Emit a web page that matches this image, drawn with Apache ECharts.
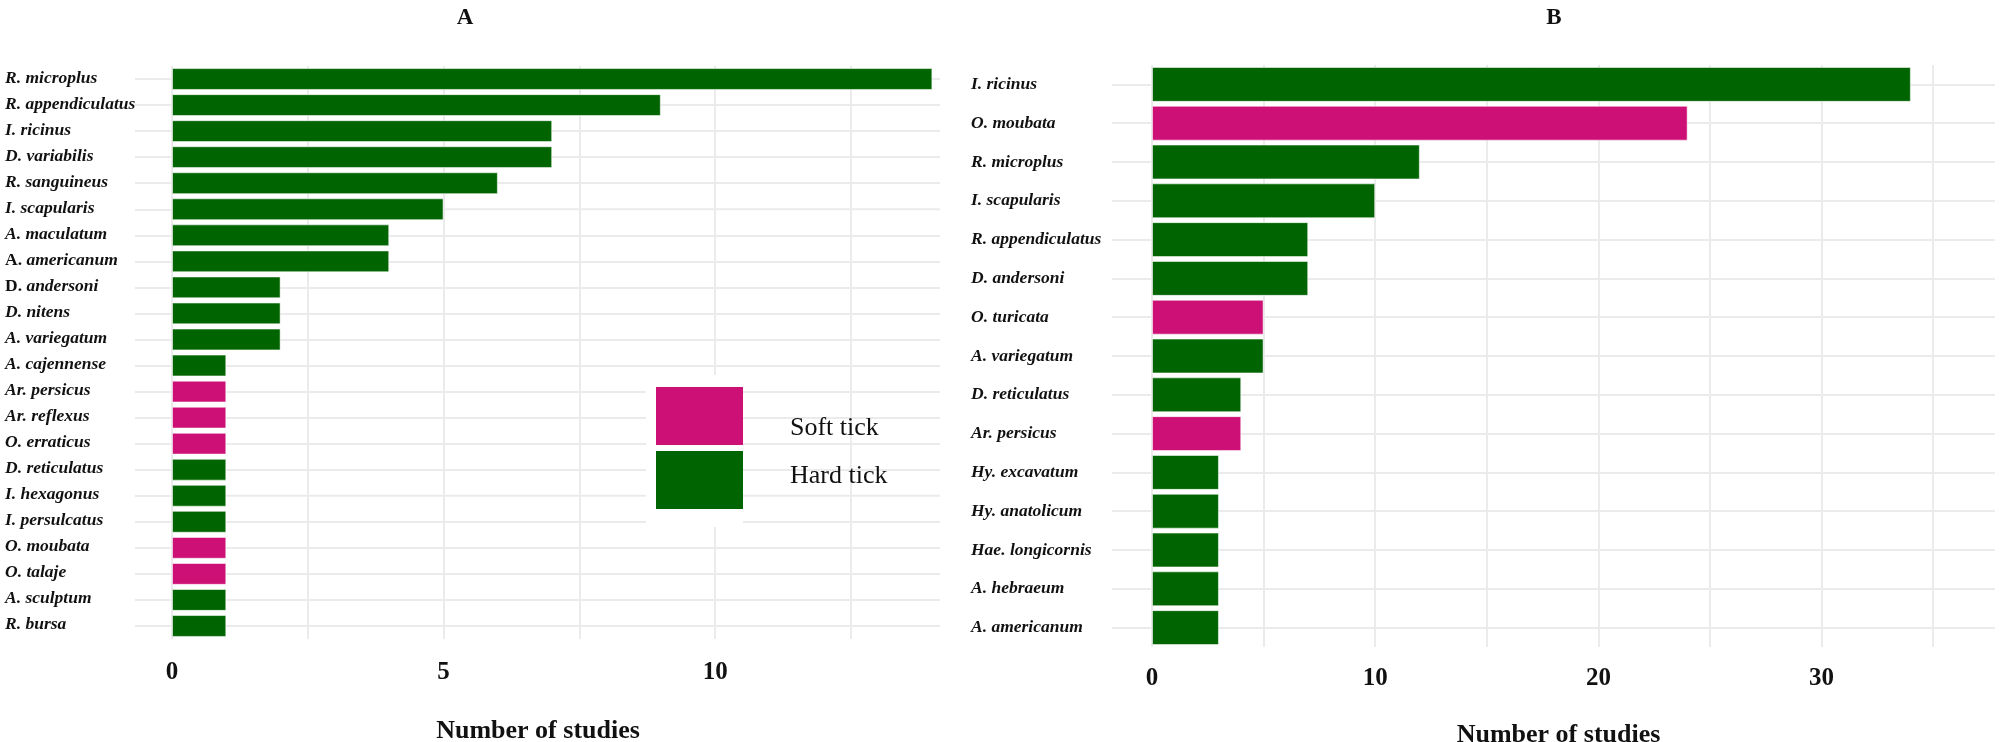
<!DOCTYPE html>
<html>
<head>
<meta charset="utf-8">
<script src="https://cdn.jsdelivr.net/npm/echarts@6/dist/echarts.min.js"></script>
<style>
  html, body { margin: 0; padding: 0; background: #ffffff; }
  #chart { width: 2000px; height: 742px; }
</style>
</head>
<body>
<div id="chart"></div>
<script>
// ---- Panel A data ----
const catsA = ['R. microplus', 'R. appendiculatus', 'I. ricinus', 'D. variabilis', 'R. sanguineus',
  'I. scapularis', 'A. maculatum', 'A. americanum', 'D. andersoni', 'D. nitens', 'A. variegatum',
  'A. cajennense', 'Ar. persicus', 'Ar. reflexus', 'O. erraticus', 'D. reticulatus', 'I. hexagonus',
  'I. persulcatus', 'O. moubata', 'O. talaje', 'A. sculptum', 'R. bursa'];
const valsA = [14, 9, 7, 7, 6, 5, 4, 4, 2, 2, 2, 1, 1, 1, 1, 1, 1, 1, 1, 1, 1, 1];
const typeA = ['H', 'H', 'H', 'H', 'H', 'H', 'H', 'H', 'H', 'H', 'H', 'H', 'S', 'S', 'S', 'H', 'H', 'H', 'S', 'S', 'H', 'H'];
const uprightGenusA = ['A. americanum', 'D. andersoni'];

// ---- Panel B data ----
const catsB = ['I. ricinus', 'O. moubata', 'R. microplus', 'I. scapularis', 'R. appendiculatus',
  'D. andersoni', 'O. turicata', 'A. variegatum', 'D. reticulatus', 'Ar. persicus', 'Hy. excavatum',
  'Hy. anatolicum', 'Hae. longicornis', 'A. hebraeum', 'A. americanum'];
const valsB = [34, 24, 12, 10, 7, 7, 5, 5, 4, 4, 3, 3, 3, 3, 3];
const typeB = ['H', 'S', 'H', 'H', 'H', 'H', 'S', 'H', 'H', 'S', 'H', 'H', 'H', 'H', 'H'];

const legendNames = ['Soft tick', 'Hard tick'];
const titleA = 'A', titleB = 'B';
const axisTitle = 'Number of studies';

const HARD = '#006400', SOFT = '#CD1076', GRIDC = '#ebebeb';
const SERIF = 'Liberation Serif';

const pick = (vals, types, t) => vals.map((v, i) => types[i] === t ? v : '-');

// Geometry (pixels)
const A = { left: 172, right: 940, top: 66, bottom: 639, lineStart: 135, labelX: 5, max: 14.14 };
const B = { left: 1152, right: 1995, top: 65, bottom: 647, lineStart: 1112, labelX: 971, max: 37.77 };

const chart = echarts.init(document.getElementById('chart'), null, { renderer: 'canvas' });

// left axis: labels + short outside ticks (horizontal grid lines left of zero)
function catAxis(idx, P, cats, rich, fmt, padBottom) {
  return {
    type: 'category', gridIndex: idx, data: cats, inverse: true, position: 'left',
    axisLine: { show: false },
    axisTick: { show: true, inside: false, alignWithLabel: true, interval: 0,
      length: P.left - P.lineStart, lineStyle: { color: GRIDC, width: 2 } },
    splitLine: { show: false },
    axisLabel: { interval: 0, align: 'left', margin: P.left - P.labelX,
      fontFamily: SERIF, fontWeight: 'bold', fontStyle: 'italic', fontSize: 17.5, color: '#111',
      padding: [0, 0, padBottom, 0], formatter: fmt, rich: rich }
  };
}
// right axis: inside ticks spanning the plot = horizontal grid lines at category centres
function catGridAxis(idx, P, cats) {
  return {
    type: 'category', gridIndex: idx, data: cats, inverse: true, position: 'right',
    axisLine: { show: false }, axisLabel: { show: false }, splitLine: { show: false },
    axisTick: { show: true, inside: true, alignWithLabel: true, interval: 0,
      length: P.right - P.left, lineStyle: { color: GRIDC, width: 2 } }
  };
}

function valAxis(idx, P, interval, labelEvery, margin, nameGap, namePadRight) {
  return {
    type: 'value', gridIndex: idx, min: 0, max: P.max, interval: interval,
    axisLine: { show: false }, axisTick: { show: false },
    splitLine: { show: true, showMaxLine: false, lineStyle: { color: GRIDC, width: 2 } },
    axisLabel: { margin: margin, fontFamily: SERIF, fontWeight: 'bold', fontSize: 25, color: '#111',
      showMaxLabel: false,
      formatter: v => (Math.abs(v % labelEvery) < 1e-9 ? String(v) : '') },
    name: axisTitle, nameLocation: 'middle', nameGap: nameGap,
    nameTextStyle: { fontFamily: SERIF, fontWeight: 'bold', fontSize: 26, color: '#111',
      padding: [0, namePadRight, 0, 0] }
  };
}

const richA = {
  u: { fontFamily: SERIF, fontWeight: 'bold', fontStyle: 'normal', fontSize: 17.5, color: '#111' },
  i: { fontFamily: SERIF, fontWeight: 'bold', fontStyle: 'italic', fontSize: 17.5, color: '#111' }
};
const fmtA = (name) => {
  if (uprightGenusA.indexOf(name) >= 0) {
    const k = name.indexOf(' ');
    return '{u|' + name.slice(0, k) + '}{i|' + name.slice(k) + '}';
  }
  return name;
};

const option = {
  animation: false,
  backgroundColor: '#ffffff',
  title: [
    { text: titleA, left: 460, top: 2, textAlign: 'center',
      textStyle: { fontFamily: SERIF, fontWeight: 'bold', fontSize: 23, color: '#111' } },
    { text: titleB, left: 1549, top: 2, textAlign: 'center',
      textStyle: { fontFamily: SERIF, fontWeight: 'bold', fontSize: 23, color: '#111' } }
  ],
  legend: [
    { data: legendNames, orient: 'vertical', left: 646, top: 375, padding: [12, 0, 18, 10],
      backgroundColor: '#ffffff', itemWidth: 87, itemHeight: 58, itemGap: 6, icon: 'rect',
      selectedMode: false, formatter: () => '', itemStyle: { borderWidth: 0 },
      textStyle: { fontSize: 1 } },
    { data: legendNames, orient: 'vertical', left: 783, top: 413, padding: 0,
      itemWidth: 2, itemHeight: 30, itemGap: 18, icon: 'rect', selectedMode: false,
      itemStyle: { opacity: 0, borderWidth: 0 },
      textStyle: { fontFamily: SERIF, fontSize: 26, color: '#111', lineHeight: 30 } }
  ],
  grid: [
    { left: A.left, top: A.top, width: A.right - A.left, height: A.bottom - A.top,
      containLabel: false, outerBoundsMode: 'none' },
    { left: B.left, top: B.top, width: B.right - B.left, height: B.bottom - B.top,
      containLabel: false, outerBoundsMode: 'none' }
  ],
  xAxis: [
    valAxis(0, A, 2.5, 5, 21, 79, 36),
    valAxis(1, B, 5, 10, 19, 75, 30)
  ],
  yAxis: [
    catAxis(0, A, catsA, richA, fmtA, 2),
    catAxis(1, B, catsB, undefined, undefined, 4),
    catGridAxis(0, A, catsA),
    catGridAxis(1, B, catsB)
  ],
  series: [
    { type: 'bar', name: 'Hard tick', xAxisIndex: 0, yAxisIndex: 0, stack: 'a', barWidth: '84%',
      data: pick(valsA, typeA, 'H'),
      itemStyle: { color: HARD, borderColor: 'rgba(255,255,255,0.55)', borderWidth: 1 } },
    { type: 'bar', name: 'Soft tick', xAxisIndex: 0, yAxisIndex: 0, stack: 'a', barWidth: '84%',
      data: pick(valsA, typeA, 'S'),
      itemStyle: { color: SOFT, borderColor: 'rgba(255,255,255,0.55)', borderWidth: 1 } },
    { type: 'bar', name: 'Hard tick', xAxisIndex: 1, yAxisIndex: 1, stack: 'b', barWidth: '90%',
      data: pick(valsB, typeB, 'H'),
      itemStyle: { color: HARD, borderColor: 'rgba(255,255,255,0.55)', borderWidth: 1 } },
    { type: 'bar', name: 'Soft tick', xAxisIndex: 1, yAxisIndex: 1, stack: 'b', barWidth: '90%',
      data: pick(valsB, typeB, 'S'),
      itemStyle: { color: SOFT, borderColor: 'rgba(255,255,255,0.55)', borderWidth: 1 } }
  ]
};

chart.setOption(option);
</script>
</body>
</html>
